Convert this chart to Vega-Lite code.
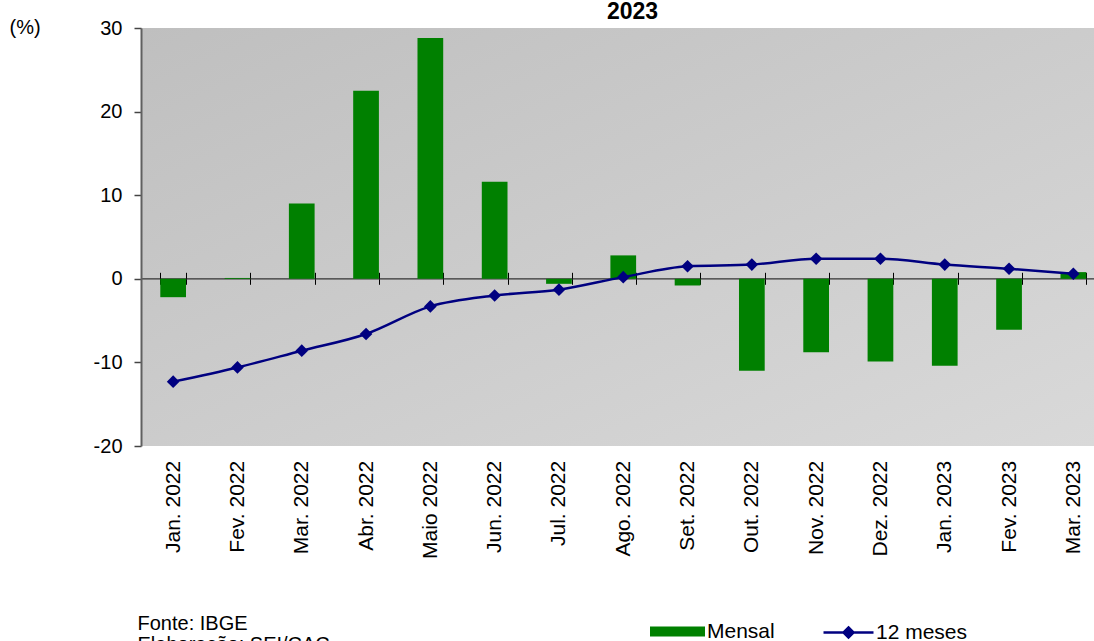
{
  "$schema": "https://vega.github.io/schema/vega-lite/v6.json",
  "autosize": {"type": "none"},
  "padding": {"left": 141, "top": 28, "right": 0, "bottom": 195},
  "width": 953,
  "height": 418,
  "background": "white",
  "config": {
    "font": "Liberation Sans",
    "view": {
      "stroke": null,
      "fill": {"gradient": "linear", "x1": 0, "y1": 0, "x2": 1, "y2": 1,
        "stops": [{"offset": 0, "color": "#bfbfbf"}, {"offset": 1, "color": "#d9d9d9"}]}
    }
  },
  "data": {"values": [
    {"mes": "Jan. 2022", "mensal": -2.2, "doze": -12.3},
    {"mes": "Fev. 2022", "mensal": 0.1, "doze": -10.6},
    {"mes": "Mar. 2022", "mensal": 9.0, "doze": -8.6},
    {"mes": "Abr. 2022", "mensal": 22.5, "doze": -6.6},
    {"mes": "Maio 2022", "mensal": 28.8, "doze": -3.3},
    {"mes": "Jun. 2022", "mensal": 11.6, "doze": -2.0},
    {"mes": "Jul. 2022", "mensal": -0.6, "doze": -1.3},
    {"mes": "Ago. 2022", "mensal": 2.8, "doze": 0.2},
    {"mes": "Set. 2022", "mensal": -0.8, "doze": 1.5},
    {"mes": "Out. 2022", "mensal": -11.0, "doze": 1.7},
    {"mes": "Nov. 2022", "mensal": -8.8, "doze": 2.4},
    {"mes": "Dez. 2022", "mensal": -9.9, "doze": 2.4},
    {"mes": "Jan. 2023", "mensal": -10.4, "doze": 1.7},
    {"mes": "Fev. 2023", "mensal": -6.1, "doze": 1.2},
    {"mes": "Mar. 2023", "mensal": 0.8, "doze": 0.6}
  ]},
  "layer": [
    {
      "mark": {"type": "bar"},
      "encoding": {
        "x": {"field": "mes", "type": "nominal", "sort": null,
          "scale": {"range": [0, 964.5], "paddingInner": 0.6, "paddingOuter": 0.3},
          "axis": {"orient": "bottom", "offset": -167.7, "domain": true, "domainColor": "#333", "domainWidth": 1.2,
            "ticks": true, "tickBand": "extent", "tickSize": 6, "tickColor": "#000", "tickWidth": 1,
            "labelAngle": 270, "labelFontSize": 21, "labelColor": "#000", "labelPadding": 176,
            "labelOverlap": false, "labelBound": false, "labelFlush": false,
            "title": ["Fonte: IBGE", "Elaboração: SEI/CAC"], "titleX": -4, "titleY": 350.7, "titleAnchor": "start",
            "titleAlign": "left", "titleBaseline": "alphabetic", "titleFontSize": 20, "titleFontWeight": "normal",
            "titleColor": "#000", "titleLineHeight": 21}},
        "y": {"field": "mensal", "type": "quantitative", "scale": {"domain": [-20, 30], "nice": false, "zero": false},
          "axis": {"values": [-20, -10, 0, 10, 20, 30], "labelExpr": "'' + datum.value", "grid": false, "domainColor": "#606060", "domainWidth": 2,
            "tickColor": "#444", "tickSize": 7, "tickWidth": 1.5, "labelFontSize": 20, "labelColor": "#000", "labelPadding": 12,
            "title": "(%)", "titleAngle": 0, "titleX": -132, "titleY": 5, "titleAlign": "left", "titleBaseline": "alphabetic",
            "titleFontSize": 20, "titleFontWeight": "normal", "titleColor": "#000"}},
        "fill": {"datum": "Mensal", "scale": {"range": ["#008000"]},
          "legend": {"orient": "none", "legendX": 509, "legendY": 576, "title": null,
            "symbolType": "M-1,-0.18H1V0.18H-1Z", "symbolSize": 3025, "symbolStrokeWidth": 0,
            "labelFontSize": 21, "labelOffset": 2, "labelColor": "#000"}}
      }
    },
    {
      "mark": {"type": "line", "interpolate": "monotone", "strokeWidth": 2.5},
      "encoding": {
        "x": {"field": "mes", "type": "nominal", "sort": null,
          "axis": {"orient": "top", "offset": -250.3, "domain": false, "labels": false, "ticks": true, "tickBand": "extent",
            "tickSize": 6, "tickColor": "#000", "tickWidth": 1,
            "title": "2023", "titleX": 491, "titleY": -260.3, "titleAlign": "center", "titleAnchor": null, "titleBaseline": "alphabetic",
            "titleFontSize": 23, "titleFontWeight": "bold", "titleColor": "#000", "titleAngle": 0}},
        "y": {"field": "doze", "type": "quantitative",
          "axis": {"values": [-20, -10, 0, 10, 20, 30], "labelExpr": "'' + datum.value", "grid": false, "domainColor": "#606060", "domainWidth": 2,
            "tickColor": "#444", "tickSize": 7, "tickWidth": 1.5, "labelFontSize": 20, "labelColor": "#000", "labelPadding": 12,
            "title": "(%)", "titleAngle": 0, "titleX": -132, "titleY": 5, "titleAlign": "left", "titleBaseline": "alphabetic",
            "titleFontSize": 20, "titleFontWeight": "normal", "titleColor": "#000"}},
        "stroke": {"datum": "12 meses", "scale": {"range": ["#000080"]},
          "legend": {"orient": "none", "legendX": 681, "legendY": 578, "title": null,
            "symbolType": "M-1,0H1M0,-0.2L0.2,0L0,0.2L-0.2,0Z", "symbolSize": 2500, "symbolStrokeWidth": 2.5,
            "symbolFillColor": "#000080", "symbolStrokeColor": "#000080",
            "labelFontSize": 21, "labelOffset": 1, "labelColor": "#000"}}
      }
    },
    {
      "mark": {"type": "point", "shape": "diamond", "filled": true, "size": 160, "color": "#000080", "opacity": 1},
      "encoding": {
        "x": {"field": "mes", "type": "nominal", "sort": null, "axis": null},
        "y": {"field": "doze", "type": "quantitative",
          "axis": {"values": [-20, -10, 0, 10, 20, 30], "labelExpr": "'' + datum.value", "grid": false, "domainColor": "#606060", "domainWidth": 2,
            "tickColor": "#444", "tickSize": 7, "tickWidth": 1.5, "labelFontSize": 20, "labelColor": "#000", "labelPadding": 12,
            "title": "(%)", "titleAngle": 0, "titleX": -132, "titleY": 5, "titleAlign": "left", "titleBaseline": "alphabetic",
            "titleFontSize": 20, "titleFontWeight": "normal", "titleColor": "#000"}}
      }
    }
  ],
  "resolve": {"axis": {"x": "independent"}}
}
